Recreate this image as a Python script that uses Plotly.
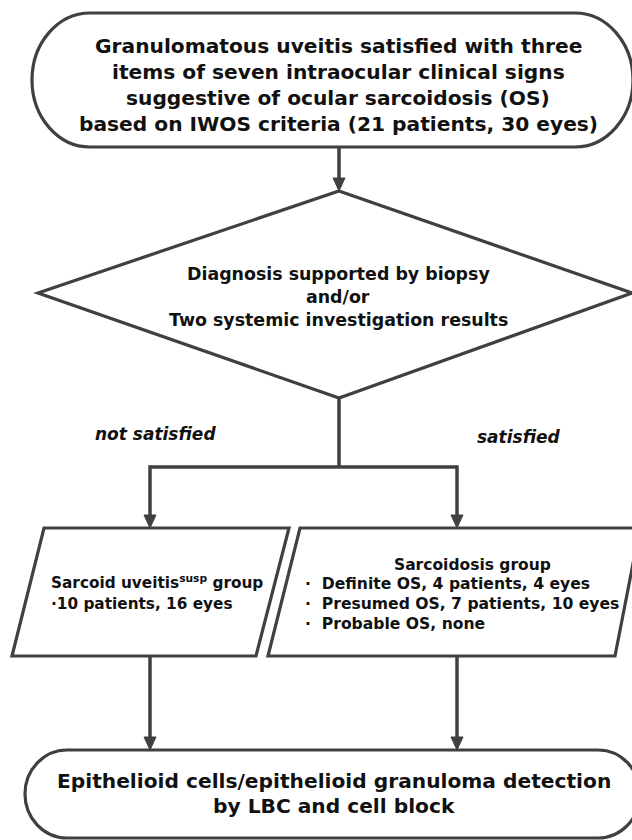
import plotly.graph_objects as go

# ---- text content ----
top_lines = [
    "Granulomatous uveitis satisfied with three",
    "items of seven intraocular clinical signs",
    "suggestive of ocular sarcoidosis (OS)",
    "based on IWOS criteria (21 patients, 30 eyes)",
]
diamond_lines = [
    "Diagnosis supported by biopsy",
    "and/or",
    "Two systemic investigation results",
]
branch_labels = ["not satisfied", "satisfied"]
left_lines = ["Sarcoid uveitis<sup>susp</sup> group", "·10 patients, 16 eyes"]
right_title = "Sarcoidosis group"
right_items = [
    "Definite OS, 4 patients, 4 eyes",
    "Presumed OS, 7 patients, 10 eyes",
    "Probable OS, none",
]
bottom_lines = [
    "Epithelioid cells/epithelioid granuloma detection",
    "by LBC and cell block",
]

W, H = 632, 840
LC = "#404040"
LW = 3.2
FONT = "DejaVu Sans"
K = 0.5523


def stadium(x0, x1, y0, y1, rx):
    ry = (y1 - y0) / 2
    ym = (y0 + y1) / 2
    a, b = x0 + rx, x1 - rx
    return (
        f"M {a},{y0} L {b},{y0} "
        f"C {b + K * rx},{y0} {x1},{ym - K * ry} {x1},{ym} "
        f"C {x1},{ym + K * ry} {b + K * rx},{y1} {b},{y1} "
        f"L {a},{y1} "
        f"C {a - K * rx},{y1} {x0},{ym + K * ry} {x0},{ym} "
        f"C {x0},{ym - K * ry} {a - K * rx},{y0} {a},{y0} Z"
    )


def poly(pts):
    return "M " + " L ".join(f"{x},{y}" for x, y in pts) + " Z"


def arrow_head(x, y, w=12, h=13):
    return poly([(x - w / 2, y - h), (x + w / 2, y - h), (x, y)])


shapes = []


def add_path(path, fill="rgba(0,0,0,0)", lw=LW):
    shapes.append(dict(type="path", path=path, xref="x", yref="y",
                       line=dict(color=LC, width=lw), fillcolor=fill, layer="above"))


def add_line(x0, y0, x1, y1):
    shapes.append(dict(type="line", x0=x0, y0=y0, x1=x1, y1=y1, xref="x", yref="y",
                       line=dict(color=LC, width=3.5), layer="above"))


# top stadium
add_path(stadium(32, 633, 13, 147, 58))
# connector to diamond
add_line(339, 147, 339, 180)
add_path(arrow_head(339, 191), fill=LC, lw=1)
# diamond
add_path(poly([(339, 191), (632, 293), (339, 398), (38, 293)]))
# down from diamond to split
add_line(339, 398, 339, 467)
add_line(150, 467, 457, 467)
add_line(150, 465.3, 150, 517)
add_line(457, 465.3, 457, 517)
add_path(arrow_head(150, 528), fill=LC, lw=1)
add_path(arrow_head(457, 528), fill=LC, lw=1)
# parallelograms
add_path(poly([(44, 528), (289, 528), (256, 656), (12, 656)]))
add_path(poly([(300, 528), (640, 528), (615, 656), (268, 656)]))
# down to bottom stadium
add_line(150, 656, 150, 740)
add_line(457, 656, 457, 740)
add_path(arrow_head(150, 750), fill=LC, lw=1)
add_path(arrow_head(457, 750), fill=LC, lw=1)
# bottom stadium
add_path(stadium(25, 640, 750, 838, 42))

ann = []


def txt(x, y, s, size, xanchor="center", italic=False):
    ann.append(dict(x=x, y=y, xref="x", yref="y", text=s, showarrow=False,
                    xanchor=xanchor, yanchor="middle",
                    font=dict(family=FONT, size=size, color="#111111", weight="bold",
                              style="italic" if italic else "normal")))


for i, s in enumerate(top_lines):
    txt(338, 46 + i * 26, s, 20.2)
for i, s in enumerate(diamond_lines):
    txt(338, 274 + i * 23, s, 17.4)
txt(155, 434, branch_labels[0], 17, italic=True)
txt(519, 437, branch_labels[1], 17, italic=True)
for i, s in enumerate(left_lines):
    txt(49, 582 + i * 22, s, 15.3, xanchor="left")
txt(472, 565, right_title, 15.5)
for i, s in enumerate(right_items):
    txt(303, 584 + i * 20, "·  " + s, 15.6, xanchor="left")
for i, s in enumerate(bottom_lines):
    txt(334, 781 + i * 25, s, 20.2)

fig = go.Figure()
fig.update_layout(
    width=W, height=H,
    margin=dict(l=0, r=0, t=0, b=0),
    paper_bgcolor="white", plot_bgcolor="white",
    xaxis=dict(range=[0, W], visible=False, fixedrange=True),
    yaxis=dict(range=[H, 0], visible=False, fixedrange=True),
    shapes=shapes, annotations=ann, showlegend=False,
)
fig.write_html("out.html",
               config={"displayModeBar": False},
               post_script="document.body.style.margin='0';document.body.style.overflow='hidden';")
